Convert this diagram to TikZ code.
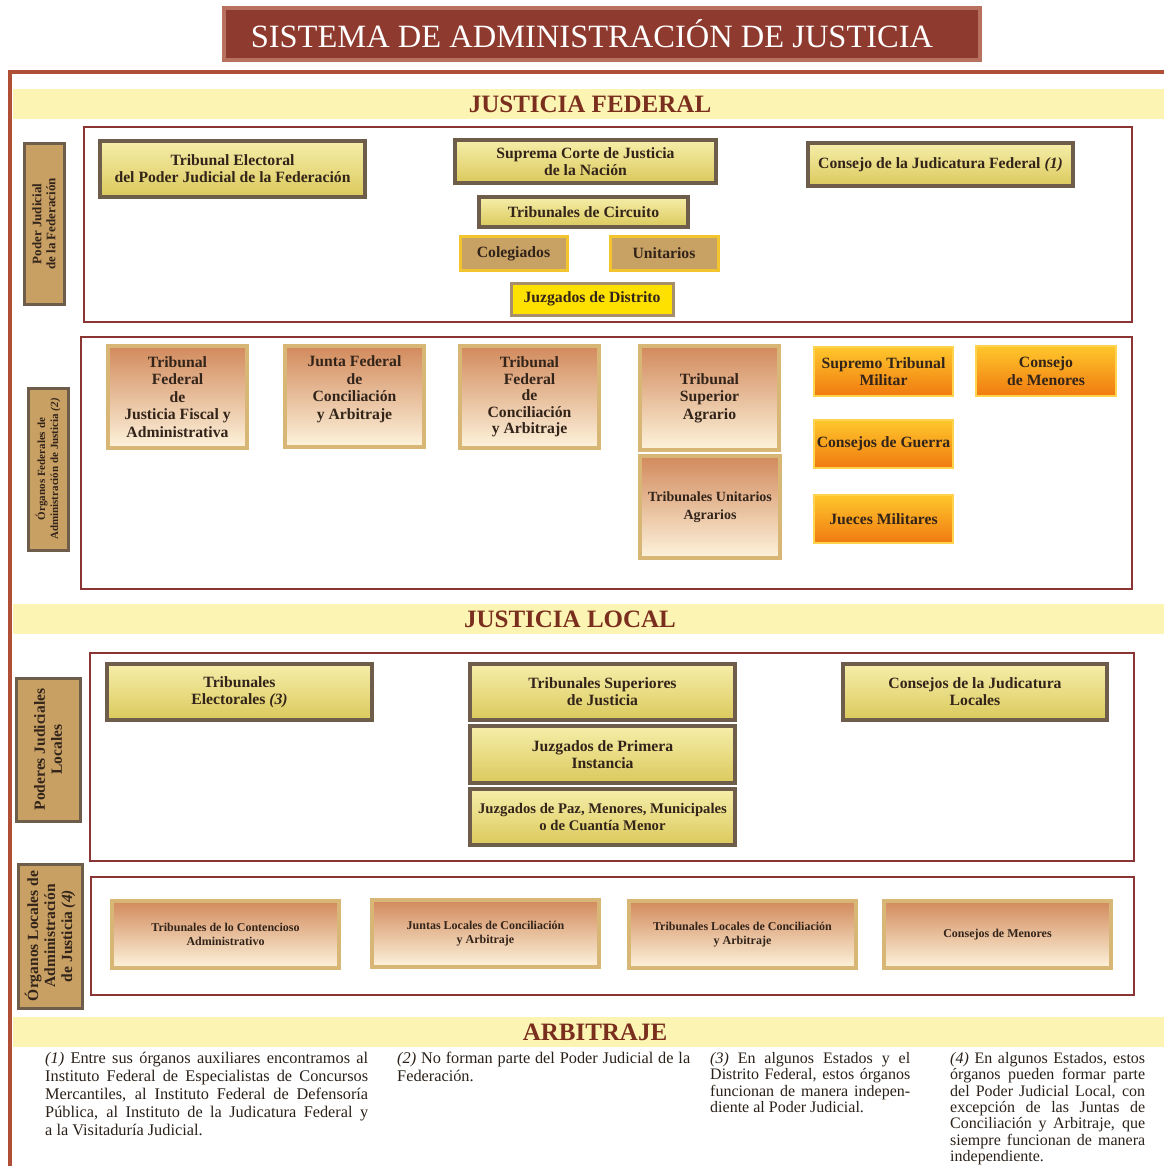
\documentclass[tikz,border=0pt]{standalone}
\usepackage{fontspec}
\setmainfont{Liberation Serif}
\usepackage{xcolor}
\usetikzlibrary{shapes,positioning}

\definecolor{titlered}{HTML}{8E3A2E}
\definecolor{titleedge}{HTML}{B8705F}
\definecolor{framecol}{HTML}{B04E36}
\definecolor{bandcol}{HTML}{FCF4B2}
\definecolor{headcol}{HTML}{7A2E1E}
\definecolor{seccol}{HTML}{8A3434}
\definecolor{barfill}{HTML}{C8A064}
\definecolor{bargray}{HTML}{6D5D4A}
\definecolor{yeltop}{HTML}{F6EEAA}
\definecolor{yelbot}{HTML}{DBC95C}
\definecolor{tantop}{HTML}{D28A5C}
\definecolor{tanbot}{HTML}{FDF3DC}
\definecolor{tanedge}{HTML}{D8B676}
\definecolor{ortop}{HTML}{FFC72C}
\definecolor{orbot}{HTML}{F07A10}
\definecolor{oredge}{HTML}{FFD34E}
\definecolor{colfill}{HTML}{C8A265}
\definecolor{coledge}{HTML}{F2C430}
\definecolor{jdfill}{HTML}{FFE100}
\definecolor{jdedge}{HTML}{A68F6A}
\definecolor{inkcol}{HTML}{33241A}
\definecolor{notecol}{HTML}{2A2018}

\tikzset{
  titlebox/.style={draw=titleedge, line width=4pt, fill=titlered, text=white, font=\fontsize{32.5}{34}\selectfont},
  band/.style={fill=bandcol, inner sep=0pt},
  header/.style={text=headcol, inner sep=0pt, font=\fontsize{25}{27}\selectfont\bfseries},
  section/.style={draw=seccol, line width=2.5pt, fill=white},
  sidebar/.style={draw=bargray, line width=3pt, fill=barfill, text=inkcol, align=center, inner sep=1pt, rotate=90},
  yelbox/.style={draw=bargray, line width=3.5pt, top color=yeltop, bottom color=yelbot, text=inkcol, align=center, inner sep=1pt, font=\fontsize{15.7}{17}\selectfont\bfseries},
  tanbox/.style={draw=tanedge, line width=4pt, top color=tantop, bottom color=tanbot, text=inkcol, align=center, inner sep=1pt, font=\fontsize{15.7}{17.5}\selectfont\bfseries},
  orbox/.style={draw=oredge, line width=2.5pt, top color=ortop, bottom color=orbot, text=inkcol, align=center, inner sep=1pt, font=\fontsize{15.7}{17.5}\selectfont\bfseries},
  circbox/.style={draw=coledge, line width=3pt, fill=colfill, text=inkcol, font=\fontsize{15.7}{17}\selectfont\bfseries},
  note/.style={anchor=north west, inner sep=0pt, text=notecol, align=justify, font=\fontsize{16.3}{18}\selectfont}
}

\begin{document}
\begin{tikzpicture}[x=1pt, y=-1pt]
\useasboundingbox (0,0) rectangle (1164,1166);
\fill[white] (0,0) rectangle (1164,1166);

% title and outer frame
\node[titlebox, minimum width=756pt, minimum height=52pt] (title) at (602,34) {SISTEMA DE ADMINISTRACIÓN DE JUSTICIA\kern20pt};
\draw[framecol, line width=4pt] (1164,72) -- (10,72) -- (10,1166);

% justicia federal
\node[band, minimum width=1151pt, minimum height=30pt] (fedband) at (588.5,104) {};
\node[header] (fedhead) at (590,104) {JUSTICIA FEDERAL};

\node[section, minimum width=1048pt, minimum height=195pt] (pjfbox) at (608,224.5) {};
\node[sidebar, minimum width=160pt, minimum height=40pt, font=\fontsize{13}{14}\selectfont\bfseries] (pjf) at (44,224) {Poder Judicial\\de la Federación};

\node[yelbox, minimum width=265pt, minimum height=56pt] (tepjf) at (232.5,169) {Tribunal Electoral\\del Poder Judicial de la Federación};
\node[yelbox, minimum width=261pt, minimum height=43pt] (scjn) at (585.5,161.5) {Suprema Corte de Justicia\\de la Nación};
\node[yelbox, minimum width=265pt, minimum height=43pt] (cjf) at (940.5,164.5) {Consejo de la Judicatura Federal \textit{(1)}};
\node[yelbox, minimum width=209pt, minimum height=30pt] (tcirc) at (583.5,212) {Tribunales de Circuito};
\node[circbox, minimum width=107pt, minimum height=33pt] (coleg) at (513.5,253.5) {Colegiados};
\node[circbox, minimum width=108pt, minimum height=33pt] (unit) at (664,253.5) {Unitarios};
\node[circbox, draw=jdedge, fill=jdfill, minimum width=162pt, minimum height=32pt] (jdist) at (592,299) {Juzgados de Distrito};

\node[section, minimum width=1051pt, minimum height=252pt] (ofajbox) at (606.5,463) {};
\node[sidebar, minimum width=162pt, minimum height=40pt, font=\fontsize{11}{13}\selectfont\bfseries] (ofaj) at (48,469) {Órganos Federales de\\Administración de Justicia \textit{(2)}};

\node[tanbox, minimum width=139pt, minimum height=102pt] (tfjfa) at (177.5,397) {Tribunal\\Federal\\de\\Justicia Fiscal y\\Administrativa};
\node[tanbox, minimum width=139pt, minimum height=101pt] (jfca) at (354.5,396.5) {Junta Federal\\de\\Conciliación\\y Arbitraje\\\mbox{}};
\node[tanbox, minimum width=139pt, minimum height=102pt, font=\fontsize{15.7}{16.5}\selectfont\bfseries] (tfca) at (529.5,397) {Tribunal\\Federal\\de\\Conciliación\\y Arbitraje};
\node[tanbox, minimum width=139pt, minimum height=104pt] (tsa) at (709.5,398) {Tribunal\\Superior\\Agrario};
\node[tanbox, minimum width=140pt, minimum height=102pt, font=\fontsize{14}{17.5}\selectfont\bfseries] (tua) at (710,507) {Tribunales Unitarios\\Agrarios};

\node[orbox, minimum width=139pt, minimum height=49pt] (stm) at (883.5,371.5) {Supremo Tribunal\\Militar};
\node[orbox, minimum width=140pt, minimum height=50pt] (cmen) at (1046,371) {Consejo\\de Menores};
\node[orbox, minimum width=139pt, minimum height=48pt] (cgue) at (883.5,444) {Consejos de Guerra};
\node[orbox, minimum width=139pt, minimum height=48pt] (jmil) at (883.5,519) {Jueces Militares};

% justicia local
\node[band, minimum width=1151pt, minimum height=30pt] (locband) at (588.5,619) {};
\node[header] (lochead) at (570,619) {JUSTICIA LOCAL};

\node[section, minimum width=1044pt, minimum height=208pt] (pjlbox) at (612,757) {};
\node[sidebar, minimum width=143pt, minimum height=64pt, font=\fontsize{15.5}{17}\selectfont\bfseries] (pjl) at (48,749.5) {Poderes Judiciales\\Locales};

\node[yelbox, minimum width=265pt, minimum height=56pt] (tel) at (239.5,692) {Tribunales\\Electorales \textit{(3)}};
\node[yelbox, minimum width=265pt, minimum height=56pt] (tsj) at (602.5,692) {Tribunales Superiores\\de Justicia};
\node[yelbox, minimum width=265pt, minimum height=57pt] (jpi) at (602.5,754.5) {Juzgados de Primera\\Instancia};
\node[yelbox, minimum width=265pt, minimum height=56pt, font=\fontsize{14.7}{16.5}\selectfont\bfseries] (jpaz) at (602.5,817) {Juzgados de Paz, Menores, Municipales\\o de Cuantía Menor};
\node[yelbox, minimum width=264pt, minimum height=56pt] (cjl) at (975,692) {Consejos de la Judicatura\\Locales};

\node[section, minimum width=1043pt, minimum height=118pt] (olajbox) at (612.5,936) {};
\node[sidebar, minimum width=144pt, minimum height=64pt, font=\fontsize{15.5}{17}\selectfont\bfseries] (olaj) at (50,936) {Órganos Locales de\\Administración\\de Justicia \textit{(4)}};

\node[tanbox, minimum width=227pt, minimum height=67pt, font=\fontsize{12}{14.5}\selectfont\bfseries] (tca) at (225.5,934.5) {Tribunales de lo Contencioso\\Administrativo};
\node[tanbox, minimum width=227pt, minimum height=67pt, font=\fontsize{12}{14.5}\selectfont\bfseries] (jlca) at (485.5,933.5) {Juntas Locales de Conciliación\\y Arbitraje};
\node[tanbox, minimum width=227pt, minimum height=67pt, font=\fontsize{12}{14.5}\selectfont\bfseries] (tlca) at (742.5,934.5) {Tribunales Locales de Conciliación\\y Arbitraje};
\node[tanbox, minimum width=227pt, minimum height=67pt, font=\fontsize{12}{14.5}\selectfont\bfseries] (cmloc) at (997.5,934.5) {Consejos de Menores};

% arbitraje and notes
\node[band, minimum width=1151pt, minimum height=30pt] (arbband) at (588.5,1032) {};
\node[header] (arbhead) at (595,1032) {ARBITRAJE};

\node[note, text width=323pt] (note1) at (45,1052) {\textit{(1)} Entre sus órganos auxiliares encontramos al\linebreak Instituto Federal de Especialistas de Concursos\linebreak Mercantiles, al Instituto Federal de Defensoría\linebreak Pública, al Instituto de la Judicatura Federal y\linebreak a la Visitaduría Judicial.};
\node[note, text width=293pt] (note2) at (397,1052) {\textit{(2)} No forman parte del Poder Judicial de la\linebreak Federación.};
\node[note, text width=200pt, font=\fontsize{16}{16.4}\selectfont] (note3) at (710,1052) {\textit{(3)} En algunos Estados y el\linebreak Distrito Federal, estos órganos\linebreak funcionan de manera indepen-\linebreak diente al Poder Judicial.};
\node[note, text width=195pt, font=\fontsize{16}{16.4}\selectfont] (note4) at (950,1052) {\textit{(4)} En algunos Estados, estos\linebreak órganos pueden formar parte\linebreak del Poder Judicial Local, con\linebreak excepción de las Juntas de\linebreak Conciliación y Arbitraje, que\linebreak siempre funcionan de manera\linebreak independiente.};
\end{tikzpicture}
\end{document}
